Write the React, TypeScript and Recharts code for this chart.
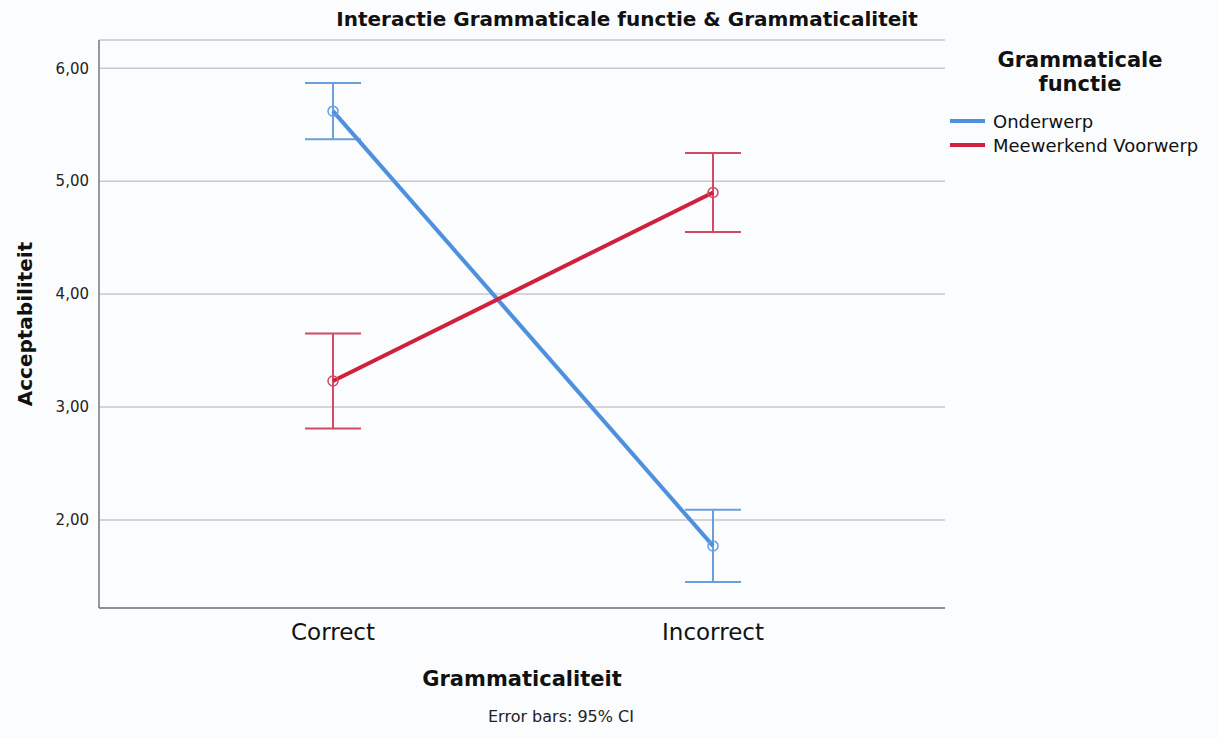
import React from 'react';
import { LineChart, Line, XAxis, YAxis, CartesianGrid, ErrorBar, Label } from 'recharts';

const categories = ['Correct', 'Incorrect'];
const onderwerpMean = [5.62, 1.77];
const onderwerpLow = [5.37, 1.45];
const onderwerpHigh = [5.87, 2.09];
const meewerkendMean = [3.23, 4.9];
const meewerkendLow = [2.81, 4.55];
const meewerkendHigh = [3.65, 5.25];
const yTicks = [2, 3, 4, 5, 6];

const BLUE = '#4f90de';
const BLUE_ERR = '#6a9fdc';
const RED = '#d0203c';
const RED_ERR = '#d24a63';
const FONT = '"DejaVu Sans", sans-serif';

// error bars need [below, above] offsets from the mean
const chartData = categories.map((c, i) => ({
  name: c,
  onderwerp: onderwerpMean[i],
  onderwerpErr: [onderwerpMean[i] - onderwerpLow[i], onderwerpHigh[i] - onderwerpMean[i]],
  meewerkend: meewerkendMean[i],
  meewerkendErr: [meewerkendMean[i] - meewerkendLow[i], meewerkendHigh[i] - meewerkendMean[i]],
}));

const legendItems = [
  { label: 'Onderwerp', color: BLUE },
  { label: 'Meewerkend Voorwerp', color: RED },
];

export default function App() {
  return (
    <div
      style={{
        position: 'fixed',
        left: 0,
        top: 0,
        width: 1218,
        height: 738,
        background: '#fbfcfd',
        fontFamily: FONT,
        color: '#111',
      }}
    >
      <div
        style={{
          position: 'absolute',
          left: 0,
          width: 1254,
          top: 7,
          textAlign: 'center',
          fontWeight: 'bold',
          fontSize: 20,
        }}
      >
        Interactie Grammaticale functie &amp; Grammaticaliteit
      </div>

      <LineChart
        width={1218}
        height={738}
        data={chartData}
        margin={{ top: 40, right: 273, bottom: 90, left: 39 }}
      >
        <CartesianGrid horizontal vertical={false} stroke="#c9c9c9" strokeWidth={1.5} />
        <XAxis
          dataKey="name"
          height={40}
          padding={{ left: 234, right: 232 }}
          tickLine={false}
          axisLine={{ stroke: '#777', strokeWidth: 1.5 }}
          tick={{ fill: '#111', fontSize: 23, fontFamily: FONT }}
          tickMargin={10}
        >
          <Label
            value="Grammaticaliteit"
            position="insideBottom"
            offset={-38}
            style={{ fill: '#111', fontSize: 21, fontWeight: 'bold', fontFamily: FONT }}
          />
        </XAxis>
        <YAxis
          width={60}
          domain={[1.22, 6.25]}
          ticks={yTicks}
          allowDataOverflow
          tickLine={false}
          axisLine={{ stroke: '#777', strokeWidth: 1.5 }}
          tick={{ fill: '#222', fontSize: 15, fontFamily: FONT }}
          tickMargin={4}
          tickFormatter={(v: number) => v.toFixed(2).replace('.', ',')}
        >
          <Label
            value="Acceptabiliteit"
            angle={-90}
            position="center"
            dx={-44}
            style={{ fill: '#111', fontSize: 20, fontWeight: 'bold', fontFamily: FONT, textAnchor: 'middle' }}
          />
        </YAxis>
        <Line
          dataKey="onderwerp"
          stroke={BLUE}
          strokeWidth={4}
          dot={{ r: 5, fill: 'none', stroke: BLUE_ERR, strokeWidth: 1.5 }}
          activeDot={false}
          isAnimationActive={false}
        >
          <ErrorBar dataKey="onderwerpErr" width={28} stroke={BLUE_ERR} strokeWidth={2} direction="y" />
        </Line>
        <Line
          dataKey="meewerkend"
          stroke={RED}
          strokeWidth={4}
          dot={{ r: 5, fill: 'none', stroke: RED_ERR, strokeWidth: 1.5 }}
          activeDot={false}
          isAnimationActive={false}
        >
          <ErrorBar dataKey="meewerkendErr" width={28} stroke={RED_ERR} strokeWidth={2} direction="y" />
        </Line>
      </LineChart>

      <div
        style={{
          position: 'absolute',
          left: 970,
          width: 220,
          top: 48,
          textAlign: 'center',
          fontWeight: 'bold',
          fontSize: 21,
          lineHeight: '24px',
        }}
      >
        Grammaticale
        <br />
        functie
      </div>
      {legendItems.map((it, i) => (
        <div
          key={it.label}
          style={{
            position: 'absolute',
            left: 950,
            top: 109 + i * 24,
            height: 24,
            display: 'flex',
            alignItems: 'center',
            fontSize: 18,
            whiteSpace: 'nowrap',
          }}
        >
          <span style={{ display: 'inline-block', width: 35, height: 4, background: it.color, marginRight: 8 }} />
          {it.label}
        </div>
      ))}

      <div
        style={{
          position: 'absolute',
          left: 441,
          width: 240,
          top: 707,
          textAlign: 'center',
          fontSize: 16,
          color: '#222',
        }}
      >
        Error bars: 95% CI
      </div>
    </div>
  );
}
